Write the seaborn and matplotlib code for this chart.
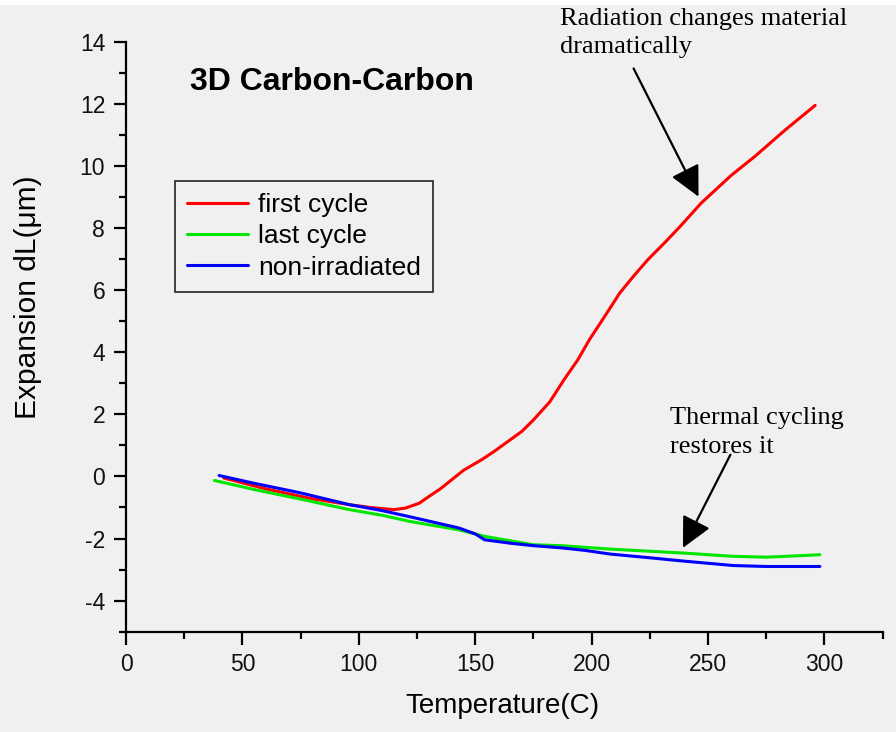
import matplotlib
matplotlib.use("Agg")
import matplotlib.pyplot as plt
from matplotlib.patches import Rectangle
from matplotlib.ticker import MultipleLocator
import numpy as np
import pandas as pd
import seaborn as sns

# ---- data ----
first_x = [42, 60, 80, 96, 105, 115, 120, 126, 130, 135, 139, 145, 153, 158, 163, 170, 175, 182, 188, 194,
           199, 206, 212, 218, 224, 231, 238, 247, 260, 270, 283, 296]
first_y = [-0.05, -0.4, -0.72, -0.91, -1.0, -1.07, -1.02, -0.86, -0.65, -0.4, -0.16, 0.2, 0.55, 0.8, 1.07,
           1.45, 1.82, 2.4, 3.1, 3.75, 4.4, 5.2, 5.9, 6.45, 6.97, 7.5, 8.05, 8.8, 9.7, 10.3, 11.15, 11.95]

last_x = [38, 55, 75, 96, 110, 122, 143, 154, 175, 187, 208, 240, 260, 275, 290, 298]
last_y = [-0.13, -0.42, -0.73, -1.07, -1.25, -1.45, -1.72, -1.93, -2.2, -2.23, -2.34, -2.47, -2.57, -2.6,
          -2.55, -2.52]

nonirr_x = [40, 55, 75, 96, 110, 122, 143, 150, 154, 165, 175, 187, 197, 208, 225, 240, 261, 275, 298]
nonirr_y = [0.03, -0.22, -0.53, -0.91, -1.1, -1.3, -1.66, -1.85, -2.04, -2.15, -2.23, -2.3, -2.38, -2.5,
            -2.62, -2.73, -2.87, -2.9, -2.9]

series_names = ["first cycle", "last cycle", "non-irradiated"]
series_colors = ["#ff0000", "#00e600", "#0000ff"]

title_text = "3D Carbon-Carbon"
x_label = "Temperature(C)"
y_label = "Expansion dL(\u03bcm)"
note1 = "Radiation changes material\ndramatically"
note2 = "Thermal cycling\nrestores it"

df = pd.concat([
    pd.DataFrame({"T": first_x, "dL": first_y, "series": series_names[0]}),
    pd.DataFrame({"T": last_x, "dL": last_y, "series": series_names[1]}),
    pd.DataFrame({"T": nonirr_x, "dL": nonirr_y, "series": series_names[2]}),
], ignore_index=True)

# ---- style ----
sns.set_theme(style="ticks")
plt.rcParams["font.family"] = ["Liberation Sans", "DejaVu Sans"]
plt.rcParams["axes.unicode_minus"] = False
for k in ["text.color", "axes.labelcolor", "xtick.color", "ytick.color", "axes.edgecolor"]:
    plt.rcParams[k] = "black"
BG = "#f0f0f0"

fig = plt.figure(figsize=(8.96, 7.32), dpi=100, facecolor=BG)
W, H = 896, 732
ax = fig.add_axes([126 / W, 1 - 631.7 / H, (882.7 - 126) / W, (631.7 - 41.7) / H])
ax.set_facecolor(BG)
fig.patches.append(Rectangle((0, 1 - 5 / H), 1, 5 / H, transform=fig.transFigure,
                             facecolor="white", edgecolor="none", zorder=-1))

sns.lineplot(data=df, x="T", y="dL", hue="series", hue_order=series_names,
             palette=dict(zip(series_names, series_colors)), estimator=None,
             sort=False, linewidth=2.2, ax=ax, legend=True)

ax.set_xlim(0, 325)
ax.set_ylim(-5, 14)
ax.xaxis.set_major_locator(MultipleLocator(50))
ax.xaxis.set_minor_locator(MultipleLocator(25))
ax.yaxis.set_major_locator(MultipleLocator(2))
ax.yaxis.set_minor_locator(MultipleLocator(1))
ax.set_xticks([0, 50, 100, 150, 200, 250, 300])
ax.set_yticks([-4, -2, 0, 2, 4, 6, 8, 10, 12, 14])
for s in ["top", "right"]:
    ax.spines[s].set_visible(False)
for s in ["left", "bottom"]:
    ax.spines[s].set_linewidth(1.6)
    ax.spines[s].set_color("black")
ax.tick_params(which="major", length=9, width=1.6, labelsize=16.5, pad=6, color="black",
               labelcolor="#111111")
ax.tick_params(which="minor", length=5, width=1.6, color="black")

ax.set_xlabel(x_label, fontsize=20)
ax.set_ylabel(y_label, fontsize=21.5)
ax.xaxis.set_label_coords(0.498, -0.104)
ax.yaxis.set_label_coords(-0.111, 0.567)

ax.text((190 - 126) / 756.7, (631.7 - 82) / 590, title_text, transform=ax.transAxes,
        fontsize=23, fontweight="bold", ha="left", va="center")

handles, labels = ax.get_legend_handles_labels()
leg = ax.legend(handles, labels, loc="upper left",
                bbox_to_anchor=(175 / W, 1 - 181 / H), bbox_transform=fig.transFigure,
                fontsize=19, frameon=True, fancybox=False, edgecolor="#333333",
                facecolor=BG, framealpha=1, handlelength=2.3, handletextpad=0.4,
                labelspacing=0.28, borderpad=0.45, borderaxespad=0)
leg.get_frame().set_linewidth(1.3)
for line in leg.get_lines():
    line.set_linewidth(2.2)

serif = ["Liberation Serif", "DejaVu Serif"]
fig.text(560 / W, 1 - 33 / H, note1, family=serif, fontsize=19, ha="left", va="center",
         linespacing=1.4)
fig.text(670 / W, 1 - 432.5 / H, note2, family=serif, fontsize=19, ha="left", va="center",
         linespacing=1.4)

arrowprops = dict(arrowstyle="-|>,head_length=1.1,head_width=0.55", color="black",
                  lw=1.6, shrinkA=0, shrinkB=0, mutation_scale=17)
ax.annotate("", xy=(245.9, 9.01), xytext=(218.0, 13.14), arrowprops=arrowprops,
            annotation_clip=False)
ax.annotate("", xy=(239.2, -2.30), xytext=(259.6, 0.70), arrowprops=arrowprops,
            annotation_clip=False)

fig.savefig("out.png", dpi=100, facecolor=BG)
